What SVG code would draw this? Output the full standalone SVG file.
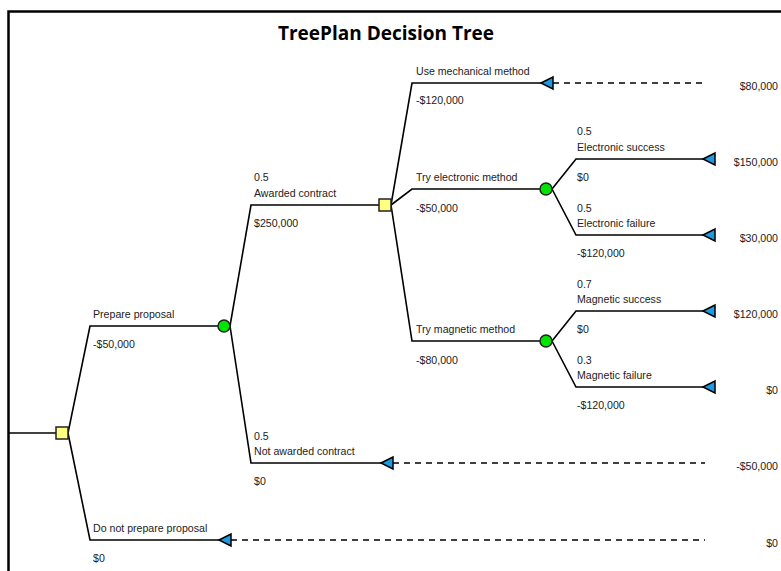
<svg xmlns="http://www.w3.org/2000/svg" width="781" height="571" viewBox="0 0 781 571">
<style>
.t{font-family:"Liberation Sans",Arial,sans-serif;font-size:10.6px;fill:#222}
.v{font-family:"Liberation Sans",Arial,sans-serif;font-size:10.6px;fill:#222;text-anchor:end}
.ttl{font-family:"Open Sans","Liberation Sans",sans-serif;font-size:19px;font-weight:bold;fill:#000;text-anchor:middle}
.ln{fill:none;stroke:#000;stroke-width:1.6}
.da{fill:none;stroke:#000;stroke-width:1.4;stroke-dasharray:6,5}
.dec{fill:#FFFF80;stroke:#222;stroke-width:1.5}
.ch{fill:#00E600;stroke:#222;stroke-width:1.5}
.tm{fill:#1E9AE0;stroke:#000;stroke-width:1.5}
</style>
<rect x="8.5" y="11.5" width="800" height="600" fill="#fff" stroke="#000" stroke-width="2.5"/>
<text class="ttl" x="386" y="40">TreePlan Decision Tree</text>
<g id="connectors">
<path class="ln" d="M9,433 H56"/>
<path class="ln" d="M68,433 L90,326 H218"/>
<path class="ln" d="M68,433 L90,540 H219"/>
<path class="da" d="M231,540 H705"/>
<path class="ln" d="M230,326 L251,205 H379"/>
<path class="ln" d="M230,326 L251,463 H381"/>
<path class="da" d="M393,463 H705"/>
<path class="ln" d="M391,205 L412,83 H541"/>
<path class="da" d="M553,83 H705"/>
<path class="ln" d="M391,205 L412,189 H540"/>
<path class="ln" d="M391,205 L412,341 H540"/>
<path class="ln" d="M552,189 L576,159 H703"/>
<path class="ln" d="M552,189 L576,235 H703"/>
<path class="ln" d="M552,341 L576,311 H703"/>
<path class="ln" d="M552,341 L576,387 H703"/>
</g>
<g id="n_root"><rect class="dec" x="56" y="427" width="12" height="12"/></g>
<g id="n_prepare"><circle class="ch" cx="224" cy="326" r="6"/>
<text class="t" x="93" y="318">Prepare proposal</text><text class="t" x="93" y="348">-$50,000</text></g>
<g id="n_noprep"><path class="tm" d="M219,540 L231,534 L231,546 Z"/>
<text class="t" x="93" y="532">Do not prepare proposal</text><text class="t" x="93" y="562">$0</text>
<text class="v" x="778" y="547">$0</text></g>
<g id="n_awarded"><rect class="dec" x="379" y="199" width="12" height="12"/>
<text class="t" x="254" y="181">0.5</text><text class="t" x="254" y="197">Awarded contract</text><text class="t" x="254" y="227">$250,000</text></g>
<g id="n_notawarded"><path class="tm" d="M381,463 L393,457 L393,469 Z"/>
<text class="t" x="254" y="440">0.5</text><text class="t" x="254" y="455">Not awarded contract</text><text class="t" x="254" y="485">$0</text>
<text class="v" x="778" y="470">-$50,000</text></g>
<g id="n_mech"><path class="tm" d="M541,83 L553,77 L553,89 Z"/>
<text class="t" x="416" y="75">Use mechanical method</text><text class="t" x="416" y="104">-$120,000</text>
<text class="v" x="778" y="90">$80,000</text></g>
<g id="n_elec"><circle class="ch" cx="546" cy="189" r="6"/>
<text class="t" x="416" y="181">Try electronic method</text><text class="t" x="416" y="212">-$50,000</text></g>
<g id="n_mag"><circle class="ch" cx="546" cy="341" r="6"/>
<text class="t" x="416" y="333">Try magnetic method</text><text class="t" x="416" y="364">-$80,000</text></g>
<g id="n_esucc"><path class="tm" d="M703,159 L715,153 L715,165 Z"/>
<text class="t" x="577" y="135">0.5</text><text class="t" x="577" y="151">Electronic success</text><text class="t" x="577" y="181">$0</text>
<text class="v" x="778" y="166">$150,000</text></g>
<g id="n_efail"><path class="tm" d="M703,235 L715,229 L715,241 Z"/>
<text class="t" x="577" y="212">0.5</text><text class="t" x="577" y="227">Electronic failure</text><text class="t" x="577" y="257">-$120,000</text>
<text class="v" x="778" y="242">$30,000</text></g>
<g id="n_msucc"><path class="tm" d="M703,311 L715,305 L715,317 Z"/>
<text class="t" x="577" y="288">0.7</text><text class="t" x="577" y="303">Magnetic success</text><text class="t" x="577" y="333">$0</text>
<text class="v" x="778" y="318">$120,000</text></g>
<g id="n_mfail"><path class="tm" d="M703,387 L715,381 L715,393 Z"/>
<text class="t" x="577" y="364">0.3</text><text class="t" x="577" y="379">Magnetic failure</text><text class="t" x="577" y="409">-$120,000</text>
<text class="v" x="778" y="394">$0</text></g>
</svg>
